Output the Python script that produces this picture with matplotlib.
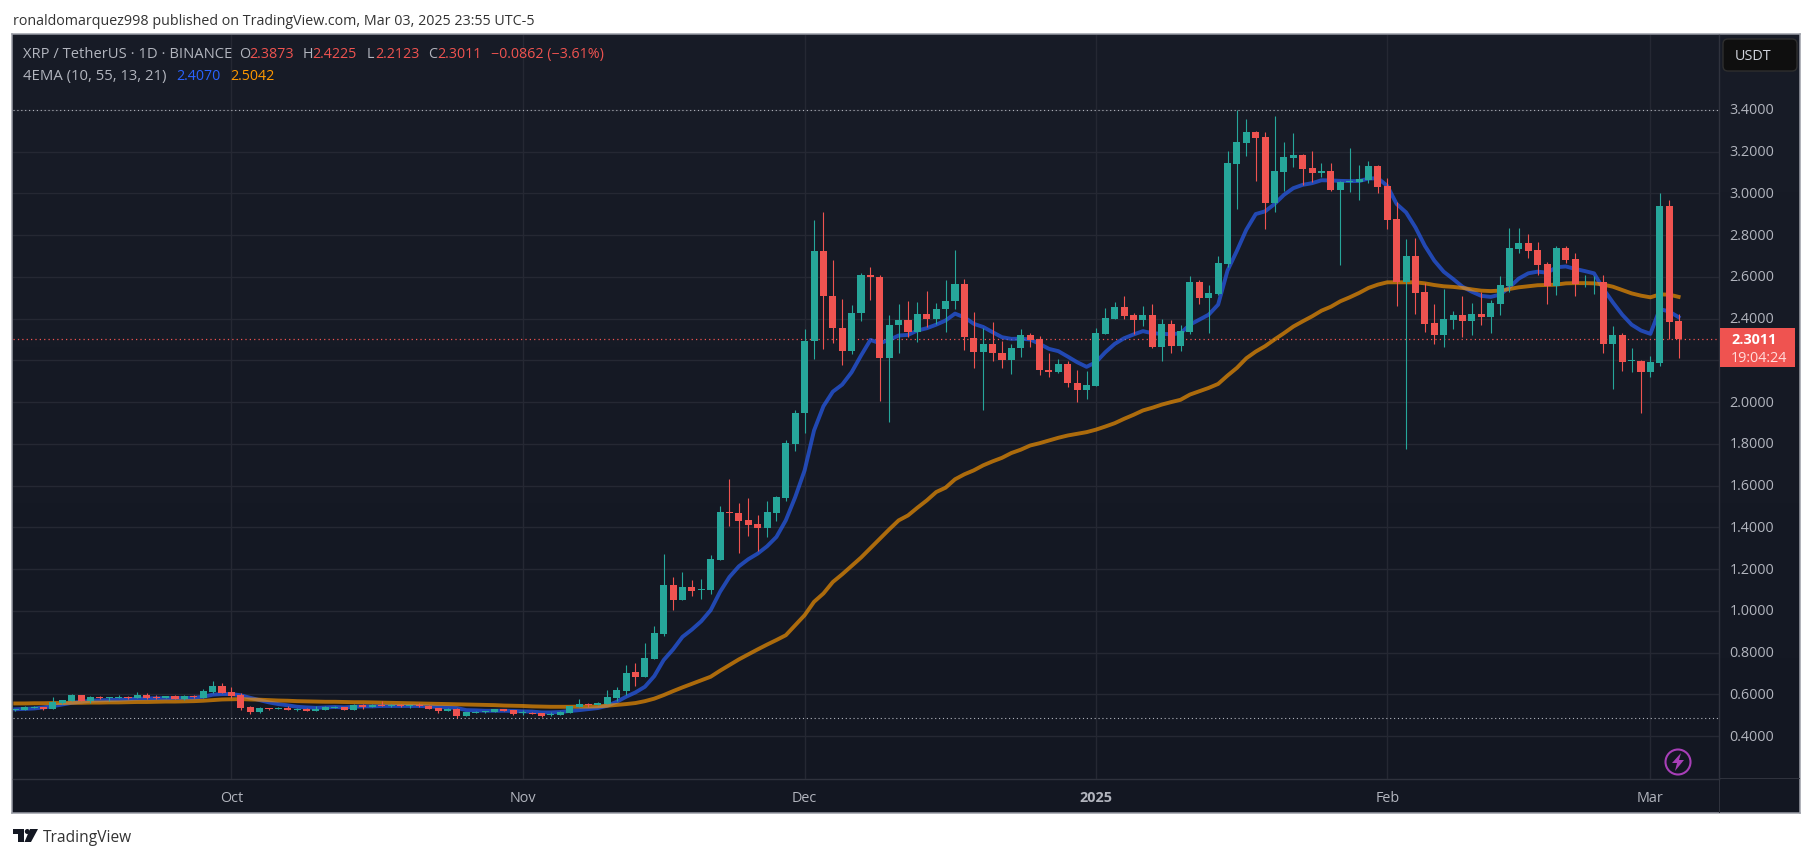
import numpy as np
import pandas as pd
import matplotlib
matplotlib.use('Agg')
import matplotlib.pyplot as plt
import matplotlib.dates as mdates
from matplotlib.patches import Circle, FancyBboxPatch, Polygon, Rectangle
from matplotlib.transforms import ScaledTranslation

# daily XRP/USDT candles, 2024-09-08 .. 2025-03-04
opens = [
    .526, .524, .536, .539, .529, .558, .568, .596, .568, .587, .583, .583, .587, .582, .596, .587, .582, .591, .577, .591, .582, .611, .639,
    .611, .596, .539, .515, .534, .529, .534, .524, .529, .520, .524, .534, .539, .524, .548, .539, .548, .545, .548, .545, .548, .544, .534, .520, .529,
    .496, .512, .515, .515, .529, .524, .512, .510, .510, .502, .500, .510, .539, .553, .548, .553, .582, .615, .706, .682,
    .769, .888, 1.123, 1.051, 1.113, 1.100, 1.099, 1.242, 1.472, 1.467, 1.434, 1.414, 1.395, 1.467, 1.539, 1.797,
    1.947, 2.292, 2.725, 2.509, 2.357, 2.244, 2.426, 2.611, 2.599, 2.210, 2.368, 2.394, 2.335, 2.422, 2.397, 2.445, 2.483, 2.566, 2.309, 2.239, 2.279, 2.236, 2.201, 2.258, 2.322, 2.300, 2.154, 2.143, 2.183, 2.092, 2.057,
    2.079, 2.328, 2.400, 2.457, 2.419, 2.395, 2.419, 2.266, 2.376, 2.271, 2.338, 2.577, 2.500,
    2.520, 2.663, 3.142, 3.242, 3.295, 3.271, 2.955, 3.103, 3.170, 3.185, 3.122, 3.099, 3.108, 3.017, 3.057, 3.055, 3.065, 3.132, 3.036, 2.878, 2.577, 2.701, 2.529, 2.381, 2.323, 2.395, 2.419, 2.390, 2.424, 2.410,
    2.472, 2.558, 2.735, 2.764, 2.730, 2.663, 2.558, 2.740, 2.687, 2.564, 2.564, 2.577, 2.276, 2.323, 2.196, 2.199, 2.142, 2.189, 2.941, 2.3873,
]
highs = [
    .529, .544, .544, .539, .587, .572, .601, .596, .591, .591, .587, .596, .591, .611, .606, .596, .591, .596, .596, .596, .625, .663, .654,
    .634, .606, .544, .539, .534, .539, .544, .536, .534, .544, .544, .544, .539, .553, .553, .553, .568, .553, .553, .548, .558, .548, .534, .534, .534,
    .515, .520, .520, .529, .529, .524, .524, .515, .510, .515, .520, .544, .577, .558, .563, .620, .634, .740, .749, .845,
    .926, 1.271, 1.161, 1.185, 1.146, 1.151, 1.266, 1.500, 1.630, 1.515, 1.539, 1.457, 1.524, 1.548, 1.816, 1.960,
    2.351, 2.872, 2.910, 2.681, 2.494, 2.465, 2.619, 2.647, 2.609, 2.418, 2.470, 2.485, 2.480, 2.532, 2.475, 2.585, 2.729, 2.590, 2.432, 2.355, 2.384, 2.293, 2.279, 2.351, 2.332, 2.317, 2.236, 2.207, 2.198, 2.154, 2.150,
    2.355, 2.453, 2.481, 2.510, 2.429, 2.462, 2.472, 2.400, 2.395, 2.371, 2.606, 2.587, 2.563,
    2.701, 3.204, 3.400, 3.357, 3.300, 3.295, 3.371, 3.247, 3.290, 3.190, 3.204, 3.146, 3.146, 3.060, 3.218, 3.137, 3.156, 3.137, 3.075, 2.960, 2.783, 2.788, 2.572, 2.472, 2.544, 2.438, 2.510, 2.477, 2.529, 2.491,
    2.606, 2.835, 2.835, 2.807, 2.768, 2.673, 2.749, 2.749, 2.716, 2.611, 2.606, 2.611, 2.366, 2.333, 2.261, 2.204, 2.223, 3.003, 2.969, 2.4225,
]
lows = [
    .521, .524, .534, .524, .529, .553, .566, .568, .556, .577, .568, .582, .577, .582, .575, .575, .582, .577, .572, .582, .582, .606, .606,
    .582, .524, .505, .510, .524, .529, .524, .520, .520, .520, .524, .534, .524, .524, .529, .539, .544, .539, .539, .534, .539, .529, .510, .520, .486,
    .496, .510, .510, .515, .520, .500, .500, .505, .491, .496, .500, .510, .539, .539, .548, .553, .567, .596, .639, .682,
    .769, .879, 1.003, 1.051, 1.070, 1.056, 1.079, 1.242, 1.405, 1.276, 1.357, 1.285, 1.352, 1.429, 1.524, 1.764,
    1.851, 2.206, 2.253, 2.282, 2.177, 2.229, 2.387, 2.488, 2.005, 1.904, 2.234, 2.311, 2.287, 2.359, 2.373, 2.335, 2.445, 2.249, 2.162, 1.961, 2.196, 2.162, 2.134, 2.215, 2.263, 2.129, 2.119, 2.139, 2.071, 2.000, 2.014,
    2.079, 2.328, 2.400, 2.400, 2.328, 2.367, 2.257, 2.199, 2.237, 2.247, 2.328, 2.472, 2.333,
    2.515, 2.649, 2.926, 3.180, 3.060, 2.831, 2.912, 3.012, 3.127, 3.041, 3.055, 3.079, 3.012, 2.658, 3.008, 2.969, 3.051, 3.003, 2.831, 2.462, 1.773, 2.424, 2.338, 2.280, 2.266, 2.352, 2.314, 2.323, 2.371, 2.333,
    2.419, 2.529, 2.716, 2.692, 2.611, 2.472, 2.515, 2.668, 2.510, 2.553, 2.520, 2.233, 2.065, 2.151, 2.146, 1.950, 2.122, 2.175, 2.300, 2.2123,
]
closes = [
    .528, .539, .539, .529, .563, .572, .596, .568, .587, .582, .587, .587, .583, .596, .582, .583, .591, .577, .591, .587, .614, .639, .606,
    .591, .534, .515, .534, .529, .534, .524, .529, .520, .529, .539, .539, .524, .548, .539, .548, .544, .548, .544, .548, .545, .529, .520, .529, .496,
    .515, .515, .520, .529, .520, .505, .515, .507, .496, .505, .515, .544, .553, .548, .558, .587, .620, .701, .682, .773,
    .893, 1.123, 1.051, 1.113, 1.094, 1.103, 1.247, 1.472, 1.469, 1.429, 1.410, 1.395, 1.472, 1.544, 1.802, 1.950,
    2.295, 2.725, 2.507, 2.354, 2.244, 2.427, 2.611, 2.598, 2.210, 2.371, 2.395, 2.335, 2.422, 2.397, 2.446, 2.485, 2.566, 2.311, 2.239, 2.279, 2.234, 2.201, 2.260, 2.322, 2.297, 2.153, 2.143, 2.183, 2.091, 2.057, 2.083,
    2.333, 2.405, 2.457, 2.414, 2.395, 2.419, 2.266, 2.376, 2.271, 2.343, 2.577, 2.500, 2.524,
    2.668, 3.146, 3.247, 3.295, 3.266, 2.955, 3.108, 3.175, 3.185, 3.118, 3.099, 3.108, 3.017, 3.055, 3.060, 3.070, 3.132, 3.032, 2.874, 2.577, 2.701, 2.524, 2.376, 2.323, 2.400, 2.419, 2.390, 2.424, 2.410, 2.477,
    2.563, 2.740, 2.764, 2.725, 2.658, 2.558, 2.740, 2.682, 2.566, 2.567, 2.567, 2.276, 2.323, 2.194, 2.199, 2.142, 2.194, 2.941, 2.386, 2.3011,
]
ema_blue = [
    .528, .530, .532, .537, .543, .551, .559, .564, .569, .571, .572, .574, .576, .579, .580, .581, .581, .582, .582, .583, .588, .598, .601, .601,
    .595, .583, .572, .561, .553, .547, .540, .537, .535, .537, .539, .537, .540, .542, .542, .544, .544, .544, .544, .544, .542, .539, .537, .534,
    .524, .523, .521, .521, .521, .520, .518, .517, .513, .513, .515, .520, .524, .529, .534, .545, .564, .588, .609, .636,
    .687, .764, .815, .875, .910, .950, 1.003, 1.091, 1.162, 1.213, 1.247, 1.274, 1.309, 1.354, 1.434, 1.545, 1.673,
    1.864, 1.980, 2.050, 2.084, 2.143, 2.223, 2.298, 2.282, 2.298, 2.319, 2.322, 2.343, 2.354, 2.371, 2.391, 2.424, 2.406, 2.375, 2.360, 2.335, 2.311, 2.303, 2.304, 2.300, 2.279, 2.255, 2.244, 2.218, 2.191, 2.169, 2.191, 2.239, 2.279, 2.306, 2.324, 2.340, 2.330,
    2.327, 2.325, 2.330, 2.371, 2.395, 2.419, 2.467, 2.630, 2.725, 2.826, 2.901, 2.914, 2.949, 2.993, 3.025, 3.041, 3.049, 3.063, 3.062, 3.060, 3.059, 3.059, 3.071, 3.073, 3.036, 2.949, 2.909, 2.837, 2.749, 2.678, 2.625, 2.590, 2.553, 2.529, 2.509, 2.504, 2.515, 2.550,
    2.592, 2.617, 2.625, 2.620, 2.646, 2.650, 2.638, 2.628, 2.617, 2.542, 2.478, 2.419, 2.371, 2.343, 2.327, 2.446, 2.434, 2.4070,
]
ema_orange = [
    .556, .556, .557, .557, .558, .558, .559, .559, .560, .560, .561, .561, .562, .563, .563, .564, .565, .565, .566, .567, .569, .572, .575, .576,
    .577, .575, .574, .572, .570, .569, .567, .566, .565, .564, .564, .563, .562, .562, .561, .560, .559, .558, .557, .556, .555, .554, .553, .552,
    .551, .550, .549, .548, .546, .545, .544, .542, .541, .540, .540, .540, .541, .541, .542, .545, .549, .553, .558, .567,
    .579, .596, .615, .633, .650, .667, .684, .713, .740, .767, .791, .815, .838, .860, .883, .931, .979,
    1.043, 1.083, 1.138, 1.175, 1.215, 1.255, 1.300, 1.345, 1.390, 1.433,
    1.457, 1.494, 1.529, 1.569, 1.590, 1.630, 1.654, 1.673, 1.697, 1.716, 1.733, 1.756, 1.772, 1.792, 1.803, 1.816, 1.829, 1.840, 1.848, 1.856,
    1.868, 1.883, 1.899, 1.920, 1.939, 1.960, 1.973, 1.988, 2.000, 2.011, 2.036, 2.052, 2.068, 2.087, 2.127, 2.164, 2.210, 2.242, 2.268, 2.300, 2.330, 2.362, 2.387, 2.411, 2.438, 2.457, 2.483, 2.502, 2.523, 2.547, 2.563,
    2.574, 2.574, 2.574, 2.574, 2.569, 2.561, 2.555, 2.552, 2.547, 2.540, 2.534, 2.532, 2.534, 2.542, 2.550, 2.555, 2.560, 2.561, 2.563,
    2.569, 2.570, 2.570, 2.569, 2.563, 2.553, 2.537, 2.521, 2.510, 2.502, 2.516, 2.515, 2.5042,
]
price_ticks = [0.4, 0.6, 0.8, 1.0, 1.2, 1.4, 1.6, 1.8, 2.0, 2.2, 2.4, 2.6, 2.8, 3.0, 3.2, 3.4]
month_ticks = ['2024-10-01', '2024-11-01', '2024-12-01', '2025-01-01', '2025-02-01', '2025-03-01']
month_labels = ['Oct', 'Nov', 'Dec', '2025', 'Feb', 'Mar']
range_high = 3.40
range_low = 0.485
last_close = 2.3011

W, H = 1814, 858
GREEN = '#26a69a'
RED = '#ef5350'
GREY = '#b2b5be'
GRID = '#252833'
LINE = '#2f323d'
BORDER = '#9a9da6'
FONT = 'Open Sans'

plt.rcParams['font.family'] = [FONT, 'DejaVu Sans']


def box(left, top, right, bottom):
    # pixel box (from top-left of the image) to figure fractions
    return [left / W, 1 - bottom / H, (right - left) / W, (bottom - top) / H]


def label(x, y, s, color=GREY, size=10.3, **kw):
    kw.setdefault('va', 'center')
    fig.text(x / W, 1 - (y + 1.5) / H, s, color=color, fontsize=size, **kw)


fig = plt.figure(figsize=(W / 100, H / 100), dpi=100, facecolor='white')

# chart frame with the slight vertical gradient of the dark theme
bg = fig.add_axes(box(12, 34, 1800, 813))
top_c = np.array([24, 28, 39]) / 255
bot_c = np.array([19, 23, 34]) / 255
grad = np.linspace(0, 1, 256)[:, None, None] * (bot_c - top_c)[None, None, :] + top_c
bg.imshow(grad, aspect='auto', extent=[0, 1, 0, 1], zorder=0)
bg.set_xticks([])
bg.set_yticks([])
for s in bg.spines.values():
    s.set_color(BORDER)
    s.set_linewidth(1.1)

ax = fig.add_axes(box(13, 35, 1719, 779))
ax.patch.set_alpha(0)

dates = pd.date_range('2024-09-08', periods=len(closes), freq='D')
x = mdates.date2num(dates)
o = np.array(opens)
h = np.array(highs)
l = np.array(lows)
c = np.array(closes)
up = c >= o

ax.plot(x, ema_blue, color='#2962ff', alpha=0.65, lw=2.8, zorder=3, solid_joinstyle='round')
ax.plot(x, ema_orange, color='#ff9800', alpha=0.65, lw=2.8, zorder=3.1, solid_joinstyle='round')

ax.vlines(x[up], l[up], h[up], color=GREEN, lw=0.8, zorder=4)
ax.vlines(x[~up], l[~up], h[~up], color=RED, lw=0.8, zorder=4)
# flat candles still show a thin body
ax.bar(x[up], np.maximum(c[up] - o[up], 0.004), bottom=o[up], width=0.75, color=GREEN, zorder=5)
ax.bar(x[~up], np.maximum(o[~up] - c[~up], 0.004), bottom=c[~up], width=0.75, color=RED, zorder=5)

ax.axhline(range_high, color=GREY, lw=0.8, ls=(0, (1, 2.5)), zorder=2)
ax.axhline(range_low, color=GREY, lw=0.8, ls=(0, (1, 2.5)), zorder=2)
ax.axhline(last_close, color=RED, lw=0.9, ls=(0, (1, 2.5)), zorder=2.5)

ax.set_xlim(mdates.date2num(pd.Timestamp('2024-10-01')) - 23.24, mdates.date2num(pd.Timestamp('2024-10-01')) + 158.3)
ax.set_ylim(0.194, 3.759)
ax.set_yticks(price_ticks)
# 2.2000 sits under the last price tag in the original
ax.set_yticklabels(['' if p == 2.2 else f'{p:.4f}' for p in price_ticks])
ax.yaxis.tick_right()
ax.set_xticks(mdates.date2num(pd.to_datetime(month_ticks)))
ax.set_xticklabels(month_labels)
ax.grid(True, color=GRID, lw=1.0, zorder=1)
ax.set_axisbelow(True)
ax.tick_params(axis='both', length=0, colors=GREY, labelsize=10.4)
ax.tick_params(axis='y', pad=7.5)
ax.tick_params(axis='x', pad=9)
ax.get_xticklabels()[3].set_fontweight('bold')
nudge = ScaledTranslation(0, 1 / 100, fig.dpi_scale_trans)
for t in ax.get_yticklabels():
    t.set_transform(t.get_transform() + nudge)
for s in ['top', 'left']:
    ax.spines[s].set_visible(False)
for s in ['right', 'bottom']:
    ax.spines[s].set_color(LINE)
    ax.spines[s].set_linewidth(1.0)

# separator under the price scale, down to the frame
fig.add_artist(Rectangle((1719 / W, 1 - 813 / H), 1 / W, 34 / H, transform=fig.transFigure, color=LINE, lw=0))
fig.add_artist(Rectangle((1719 / W, 1 - 779 / H), 81 / W, 1 / H, transform=fig.transFigure, color=LINE, lw=0))

# top caption
label(13, 20, 'ronaldomarquez998 published on TradingView.com, Mar 03, 2025 23:55 UTC-5', color='#333333', size=10.3)

# legend rows
label(23, 53, 'XRP / TetherUS · 1D · BINANCE', size=10.6)
for xp, s, col in [(239, 'O', GREY), (249, '2.3873', RED), (303, 'H', GREY), (312.5, '2.4225', RED),
                   (366.5, 'L', GREY), (375, '2.2123', RED), (428, 'C', GREY), (437, '2.3011', RED),
                   (491, '−0.0862 (−3.61%)', RED)]:
    label(xp, 53, s, color=col)
label(23, 75, '4EMA (10, 55, 13, 21)', size=10.7)
label(176, 75, '2.4070', color='#2962ff')
label(230, 75, '2.5042', color='#ff9800')

# currency button
fig.add_artist(FancyBboxPatch((1723, H - 71), 74, 32, boxstyle='round,pad=0,rounding_size=5',
                              transform=None, fc='#0f0f0f', ec='#2e2e2e', lw=1))
label(1735, 55, 'USDT', color='#d1d4dc', size=10.4)

# last price tag
fig.add_artist(Rectangle((1720, H - 367), 75, 39, transform=None, fc=RED, ec='none', zorder=5))
fig.text(1731 / W, 1 - 340 / H, '2.3011', color='white', fontsize=10.4, fontweight='bold', va='center', zorder=6)
fig.text(1731 / W, 1 - 358 / H, '19:04:24', color='#ffdcdc', fontsize=10.4, va='center', zorder=6)

# lightning badge
fig.add_artist(Circle((1678, H - 762), 12.5, transform=None, fc='none', ec='#a83fb8', lw=1.5))
fig.add_artist(Polygon([(1681, H - 753), (1672, H - 763), (1677, H - 763), (1675, H - 771),
                        (1684, H - 760), (1679, H - 760)], closed=True, transform=None, fc='#a83fb8', ec='none'))

# TradingView logo
for pts in ([(13, 829), (24, 829), (24, 842), (18, 842), (18, 834), (13, 834)],
            [(30, 829), (38, 829), (31, 842), (24.5, 842)]):
    fig.add_artist(Polygon([(a, H - b) for a, b in pts], closed=True, transform=None, fc='#131722', ec='none'))
fig.add_artist(Circle((27.3, H - 831.5), 2.5, transform=None, fc='#131722', ec='none'))
label(43, 836, 'TradingView', color='#333333', size=11.2)

fig.savefig('out.png', dpi=100, facecolor='white')
